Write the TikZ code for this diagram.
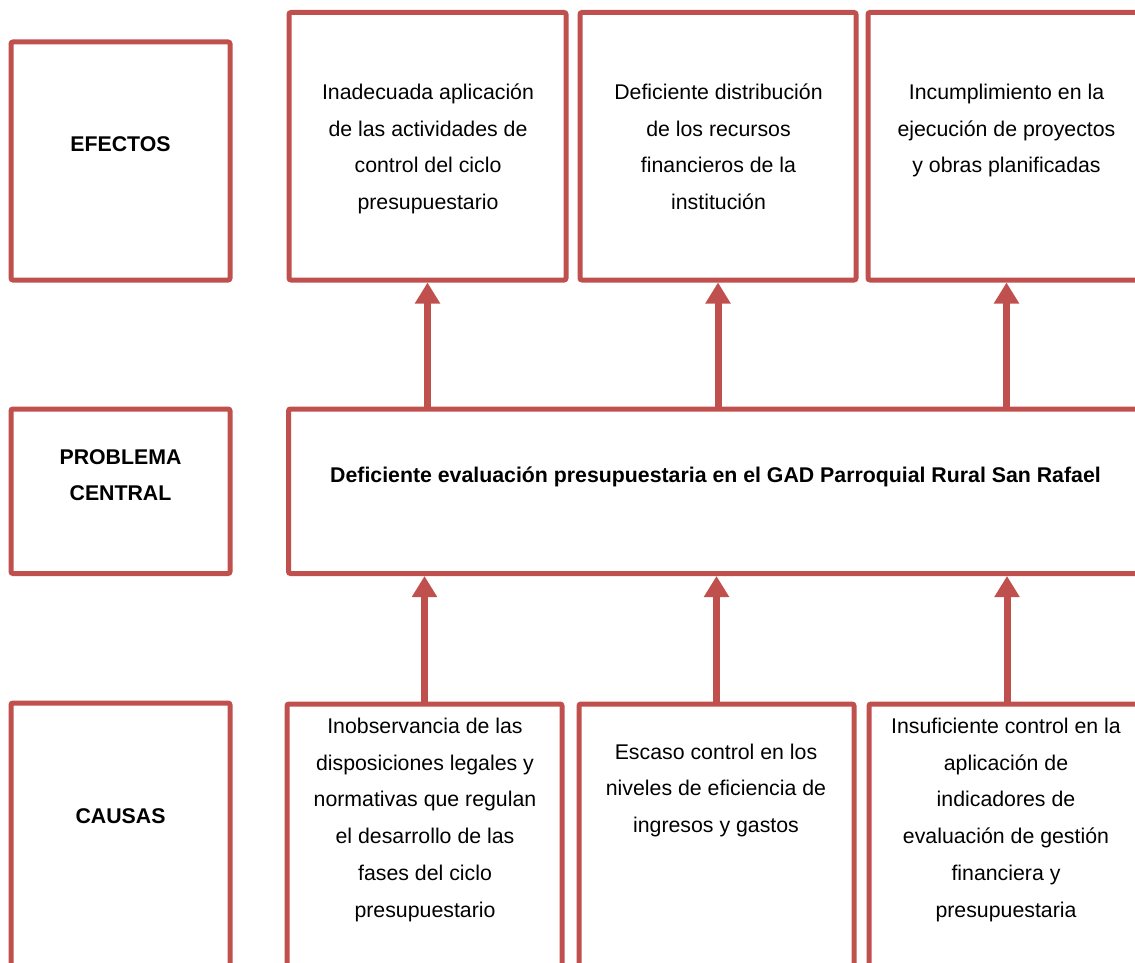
\documentclass[tikz,border=0pt]{standalone}
\usepackage{fontspec}
\setmainfont{Liberation Sans}
\usetikzlibrary{arrows.meta,positioning}
\definecolor{boxred}{HTML}{C0504D}

\begin{document}
\begin{tikzpicture}[
    x=1pt, y=-1pt,
    box/.style={rectangle, draw=boxred, line width=5pt, rounded corners=2pt, inner sep=0pt},
    txt/.style={align=center, inner sep=0pt, anchor=base, font=\fontsize{21.3}{36.8}\selectfont},
    head/.style={txt, font=\fontsize{21.3}{36.8}\selectfont\bfseries},
    arrow/.style={-{Triangle[width=24pt,length=21pt]}, draw=boxred, line width=7pt}
]
    \useasboundingbox (0,0) rectangle (1135,963);
    \clip (0,0) rectangle (1135,963);

    \node[box, minimum width=219pt, minimum height=238pt] (efl) at (120.5,161) {};
    \node[box, minimum width=219pt, minimum height=164.5pt] (pcl) at (120.5,491.25) {};
    \node[box, minimum width=219pt, minimum height=297pt] (cal) at (120.5,851.5) {};

    \node[box, minimum width=277pt, minimum height=267.5pt] (e1) at (427.5,146.25) {};
    \node[box, minimum width=276pt, minimum height=267.5pt] (e2) at (718,146.25) {};
    \node[box, minimum width=277pt, minimum height=267.5pt] (e3) at (1006.5,146.25) {};

    \node[box, minimum width=861.5pt, minimum height=164.5pt] (pc) at (719.25,491.25) {};

    \node[box, minimum width=275pt, minimum height=296pt] (c1) at (424.5,852) {};
    \node[box, minimum width=275pt, minimum height=296pt] (c2) at (716.5,852) {};
    \node[box, minimum width=276pt, minimum height=296pt] (c3) at (1007,852) {};

    % text sits on the baseline of its last line
    \node[head] (eflt) at (120.5,152) {EFECTOS};
    \node[head] (pclt) at (120.5,500.8) {PROBLEMA\\CENTRAL};
    \node[head] (calt) at (120.5,823) {CAUSAS};

    \node[txt] (e1t) at (428,209.7) {Inadecuada aplicación\\de las actividades de\\control del ciclo\\presupuestario};
    \node[txt] (e2t) at (718.5,209.7) {Deficiente distribución\\de los recursos\\financieros de la\\institución};
    \node[txt] (e3t) at (1006.5,172.9) {Incumplimiento en la\\ejecución de proyectos\\y obras planificadas};

    \node[head] (pct) at (715.5,482) {Deficiente evaluación presupuestaria en el GAD Parroquial Rural San Rafael};

    \node[txt] (c1t) at (425,917.3) {Inobservancia de las\\disposiciones legales y\\normativas que regulan\\el desarrollo de las\\fases del ciclo\\presupuestario};
    \node[txt] (c2t) at (716,832.6) {Escaso control en los\\niveles de eficiencia de\\ingresos y gastos};
    \node[txt] (c3t) at (1006,917.3) {Insuficiente control en la\\aplicación de\\indicadores de\\evaluación de gestión\\financiera y\\presupuestaria};

    \draw[arrow] (pc.north -| e1.south) -- (e1.south);
    \draw[arrow] (pc.north -| e2.south) -- (e2.south);
    \draw[arrow] (pc.north -| e3.south) -- (e3.south);

    \draw[arrow] (c1.north) -- (c1.north |- pc.south);
    \draw[arrow] (c2.north) -- (c2.north |- pc.south);
    \draw[arrow] (c3.north) -- (c3.north |- pc.south);
\end{tikzpicture}
\end{document}
